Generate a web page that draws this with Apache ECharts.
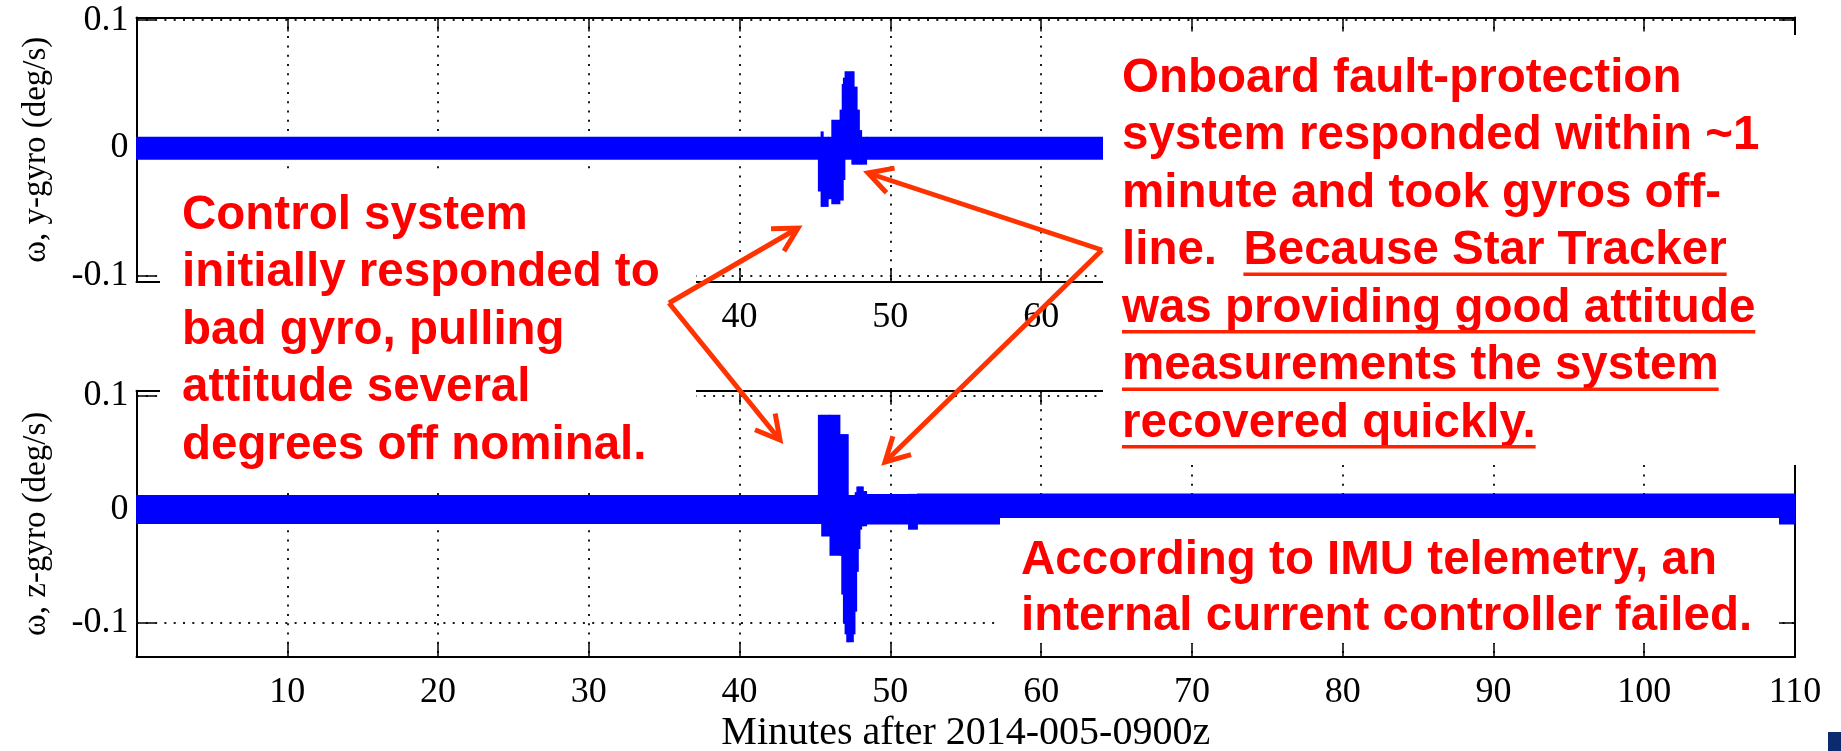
<!DOCTYPE html>
<html>
<head>
<meta charset="utf-8">
<script src="https://cdn.jsdelivr.net/npm/echarts@6/dist/echarts.min.js"></script>
<style>
html,body{margin:0;padding:0;background:#fff;}
#c{width:1841px;height:751px;}
</style>
</head>
<body>
<div id="c"></div>
<script>
// ---------------- data ----------------
const X_MIN = 0, X_MAX = 110, X_STEP = 10;           // minutes after 2014-005-0900z
const Y_TICKS = [-0.1, 0, 0.1];                      // deg/s tick labels
const Y_GYRO_RANGE = [-0.1047, 0.1020];
const Z_GYRO_RANGE = [-0.1299, 0.1042];

// y-gyro: envelope of the plotted trace, segment breakpoints (minutes) and low/high (deg/s)
const yGyroT    = [0, 45.22, 45.40, 45.55, 45.88, 46.11, 46.66, 46.80, 46.88, 46.99, 47.44, 47.60, 47.80, 47.95, 48.10, 48.43, 110];
const yGyroLow  = [-0.0092, -0.034, -0.046, -0.046, -0.040, -0.044, -0.041, -0.041, -0.025, -0.0092, -0.013, -0.013, -0.013, -0.013, -0.013, -0.0092];
const yGyroHigh = [0.0088, 0.0088, 0.013, 0.0088, 0.0088, 0.022, 0.030, 0.050, 0.055, 0.060, 0.060, 0.048, 0.030, 0.014, 0.0088, 0.0088];

// z-gyro envelope
const zGyroT    = [0, 45.22, 45.44, 45.99, 46.66, 46.77, 46.88, 46.99, 47.10, 47.21, 47.55, 47.66, 47.77, 47.88, 47.99, 48.10, 48.21, 48.43, 51.2, 51.8, 110];
const zGyroLow  = [-0.013, -0.013, -0.024, -0.041, -0.041, -0.075, -0.100, -0.110, -0.117, -0.117, -0.110, -0.090, -0.055, -0.035, -0.018, -0.015, -0.015, -0.0135, -0.018, -0.0135];
const zGyroHigh = [0.0125, 0.083, 0.083, 0.083, 0.066, 0.066, 0.066, 0.066, 0.066, 0.0125, 0.0125, 0.015, 0.020, 0.020, 0.020, 0.020, 0.016, 0.0135, 0.0135, 0.0138];

const Y_NAME_TOP = 'ω, y-gyro (deg/s)';
const Y_NAME_BOT = 'ω, z-gyro (deg/s)';
const X_NAME = 'Minutes after 2014-005-0900z';

const TEXT_LEFT = ['Control system', 'initially responded to', 'bad gyro, pulling', 'attitude several', 'degrees off nominal.'];
const TEXT_RIGHT = ['Onboard fault-protection', 'system responded within ~1', 'minute and took gyros off-', 'line.  Because Star Tracker', 'was providing good attitude', 'measurements the system', 'recovered quickly.'];
const TEXT_RIGHT_UNDERLINE_FROM = [null, null, null, 'line.  ', '', '', ''];
const TEXT_BOTTOM = ['According to IMU telemetry, an', 'internal current controller failed.'];

// ---------------- layout / style ----------------
const GRID_LEFT = 136.5, GRID_W = 1658.5;
const grids = [
  {left: GRID_LEFT, top: 17.5, width: GRID_W, height: 264.5},
  {left: GRID_LEFT, top: 390.7, width: GRID_W, height: 266.3}
];
const BLUE = '#0000ff';
const AX = '#000';
const SERIF = '"Liberation Serif", "Times New Roman", serif';
const GRIDLINE = {show: true, lineStyle: {color: '#1a1a1a', width: 2, type: [2, 7.3]}};

function segs(T, lo, hi) { return lo.map((v, i) => [T[i], T[i + 1], v, hi[i]]); }

function bandItem(params, api) {
  const p0 = api.coord([api.value(0), api.value(3)]);
  const p1 = api.coord([api.value(1), api.value(2)]);
  return {
    type: 'rect',
    shape: {x: p0[0] - 0.4, y: p0[1], width: p1[0] - p0[0] + 0.8, height: p1[1] - p0[1]},
    style: {fill: BLUE}
  };
}

function xMain(gi, name) {
  const o = {
    gridIndex: gi, type: 'value', min: X_MIN, max: X_MAX, interval: X_STEP, position: 'bottom',
    axisLine: {show: true, onZero: false, lineStyle: {color: AX, width: 2}},
    axisTick: {show: true, inside: true, length: 14, lineStyle: {color: AX, width: 1.5}},
    axisLabel: {show: true, showMinLabel: false, margin: 18, color: '#000', fontFamily: SERIF, fontSize: 36},
    splitLine: GRIDLINE
  };
  if (name) {
    o.name = name; o.nameLocation = 'middle'; o.nameGap = 56;
    o.nameTextStyle = {color: '#000', fontFamily: SERIF, fontSize: 40};
  }
  return o;
}
function xTop(gi) {
  return {
    gridIndex: gi, type: 'value', min: X_MIN, max: X_MAX, interval: X_STEP, position: 'top',
    axisLine: {show: true, onZero: false, lineStyle: {color: AX, width: 2}},
    axisTick: {show: true, inside: true, length: 14, lineStyle: {color: AX, width: 1.5}},
    axisLabel: {show: false}, splitLine: {show: false}
  };
}
function yMain(gi, range, name) {
  return {
    gridIndex: gi, type: 'value', min: range[0], max: range[1], position: 'left',
    axisLine: {show: true, onZero: false, lineStyle: {color: AX, width: 2}},
    axisTick: {show: true, inside: true, length: 19, customValues: Y_TICKS, lineStyle: {color: AX, width: 1.5}},
    axisLabel: {show: true, customValues: Y_TICKS, margin: 8, padding: [10, 0, 0, 0], color: '#000', fontFamily: SERIF, fontSize: 36,
      formatter: v => String(Math.round(v * 10) / 10)},
    splitLine: GRIDLINE,
    name: name, nameLocation: 'middle', nameGap: 84,
    nameTextStyle: {color: '#000', fontFamily: SERIF, fontSize: 33}
  };
}
function yRight(gi, range) {
  return {
    gridIndex: gi, type: 'value', min: range[0], max: range[1], position: 'right',
    axisLine: {show: true, onZero: false, lineStyle: {color: AX, width: 2}},
    axisTick: {show: true, inside: true, length: 16, customValues: Y_TICKS, lineStyle: {color: AX, width: 1.5}},
    axisLabel: {show: false}, splitLine: {show: false}
  };
}

// ---------------- annotations ----------------
const FONT_SIZE = 47.5;
const FONT = 'bold ' + FONT_SIZE + 'px "Liberation Sans", Arial, sans-serif';
const RED = '#ff0000';
const ARROW_RED = '#ff3300';
const LINE_PITCH = 57.5;
const BASE_SHIFT = 16.5; // baseline below middle

const measureCtx = document.createElement('canvas').getContext('2d');
measureCtx.font = FONT;
function tw(s) { return measureCtx.measureText(s).width; }

const graphics = [];
// white boxes behind the annotation text
[[160, 172, 536, 315], [1103, 35, 738, 430], [1000, 518, 779, 125]].forEach(b => {
  graphics.push({type: 'rect', z: 100, silent: true, shape: {x: b[0], y: b[1], width: b[2], height: b[3]}, style: {fill: '#fff'}});
});
function addLines(lines, x, base0, pitch) {
  lines.forEach((s, i) => {
    graphics.push({type: 'text', z: 101, silent: true, x: x, y: base0 + i * pitch - BASE_SHIFT,
      style: {text: s, font: FONT, fill: RED, verticalAlign: 'middle', align: 'left'}});
  });
}
addLines(TEXT_LEFT, 182, 232, LINE_PITCH);
addLines(TEXT_RIGHT, 1122, 95, LINE_PITCH);
addLines(TEXT_BOTTOM, 1021, 577, 56);
TEXT_RIGHT.forEach((s, i) => {
  const pre = TEXT_RIGHT_UNDERLINE_FROM[i];
  if (pre === null) return;
  const x0 = 1122 + tw(pre);
  const x1 = 1122 + tw(s);
  graphics.push({type: 'rect', z: 101, silent: true,
    shape: {x: x0, y: 95 + i * LINE_PITCH + 5, width: x1 - x0, height: 3.5}, style: {fill: '#ff2200'}});
});
// arrows
const ARROWS = [[[669, 303], [798, 228]], [[669, 303], [780, 440]], [[1102, 250], [868, 173]], [[1102, 250], [885, 462]]];
ARROWS.forEach(a => {
  const [p, q] = a;
  graphics.push({type: 'line', z: 102, silent: true, shape: {x1: p[0], y1: p[1], x2: q[0], y2: q[1]},
    style: {stroke: ARROW_RED, lineWidth: 5}});
  const ang = Math.atan2(p[1] - q[1], p[0] - q[0]);
  const L = 27, da = 0.5;
  graphics.push({type: 'polyline', z: 102, silent: true,
    shape: {points: [[q[0] + L * Math.cos(ang + da), q[1] + L * Math.sin(ang + da)], [q[0], q[1]], [q[0] + L * Math.cos(ang - da), q[1] + L * Math.sin(ang - da)]]},
    style: {stroke: ARROW_RED, lineWidth: 5, fill: null, lineJoin: 'miter'}});
});
// corner logo fragment
graphics.push({type: 'rect', z: 100, silent: true, shape: {x: 1828, y: 732, width: 13, height: 19}, style: {fill: '#0c2a6e'}});

// ---------------- chart ----------------
const chart = echarts.init(document.getElementById('c'), null, {renderer: 'canvas', width: 1841, height: 751});
chart.setOption({
  animation: false,
  backgroundColor: '#fff',
  grid: grids.map(g => Object.assign({containLabel: false, outerBoundsMode: 'none'}, g)),
  xAxis: [xMain(0), xMain(1, X_NAME), xTop(0), xTop(1)],
  yAxis: [yMain(0, Y_GYRO_RANGE, Y_NAME_TOP), yMain(1, Z_GYRO_RANGE, Y_NAME_BOT), yRight(0, Y_GYRO_RANGE), yRight(1, Z_GYRO_RANGE)],
  series: [
    {name: 'y-gyro', type: 'custom', xAxisIndex: 0, yAxisIndex: 0, renderItem: bandItem, data: segs(yGyroT, yGyroLow, yGyroHigh), z: 2},
    {name: 'z-gyro', type: 'custom', xAxisIndex: 1, yAxisIndex: 1, renderItem: bandItem, data: segs(zGyroT, zGyroLow, zGyroHigh), z: 2}
  ],
  graphic: {elements: graphics}
});
</script>
</body>
</html>
